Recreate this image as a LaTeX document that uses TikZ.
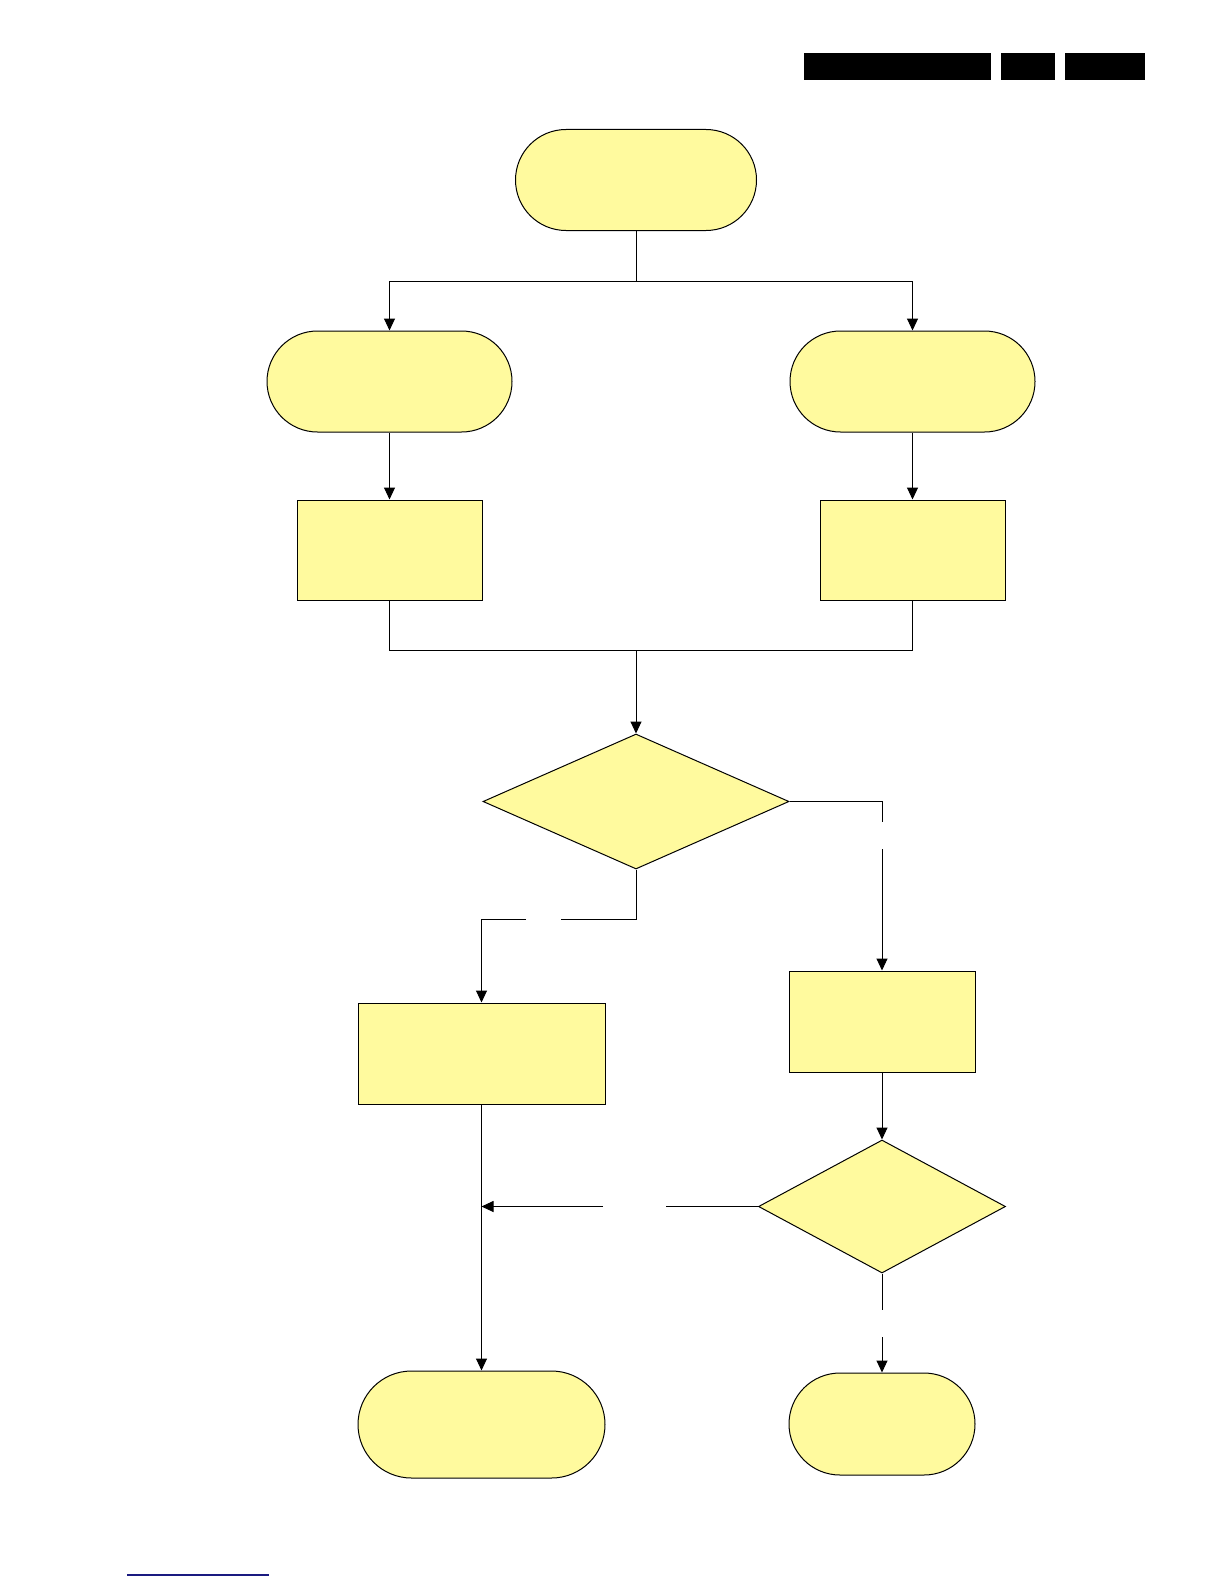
\documentclass[tikz,border=0pt]{standalone}
\usepackage{tikz}
\usetikzlibrary{arrows.meta,shapes.geometric,shapes.misc}
\definecolor{flowfill}{HTML}{FFFA9E}
\definecolor{linkblue}{HTML}{1A1A80}

\begin{document}
\begin{tikzpicture}[
          x=0.5pt, y=-0.5pt,
          line width=0.5pt,
          arr/.style={-{Triangle[length=6pt,width=5.5pt]}},
          term/.style={draw, rounded rectangle, fill=flowfill, inner sep=0pt, minimum height=50.5pt},
          box/.style={draw, fill=flowfill, inner sep=0pt, minimum height=50pt},
          dec/.style={draw, diamond, fill=flowfill, inner sep=0pt}
      ]
        \useasboundingbox (0,0) rectangle (1224,1584);
        % header bars
        \fill (804,53) rectangle (991,80);
        \fill (1001,53) rectangle (1055,80);
        \fill (1065,53) rectangle (1145,80);
        % shapes
        \node[term, minimum width=120.5pt] (start) at (636,180) {};
        \node[term, minimum width=122.5pt] (termL) at (389.5,381.5) {};
        \node[term, minimum width=122.5pt] (termR) at (912.5,381.5) {};
        \node[box, minimum width=92.5pt] (boxL) at (389.5,550) {};
        \node[box, minimum width=92.5pt] (boxR) at (912.5,550) {};
        \node[dec, minimum width=153pt, minimum height=67.5pt, aspect=2.27] (checkA) at (636,801.5) {};
        \node[box, minimum width=123.5pt, minimum height=50.5pt] (boxLL) at (481.5,1053.5) {};
        \node[box, minimum width=93pt, minimum height=50.5pt] (boxRR) at (882,1021.5) {};
        \node[dec, minimum width=123.5pt, minimum height=66.5pt, aspect=1.86] (checkB) at (882,1206.5) {};
        \node[term, minimum width=123.5pt, minimum height=53.5pt] (endL) at (481.5,1424.5) {};
        \node[term, minimum width=93pt, minimum height=51pt] (endR) at (882,1424) {};
        % split and merge
        \coordinate (splitT) at (636,281);
        \coordinate (mergeB) at (636,650);
        \draw (start.south) -- (splitT);
        \draw[arr] (splitT) -| (termL.north);
        \draw[arr] (splitT) -| (termR.north);
        \draw[arr] (termL) -- (boxL);
        \draw[arr] (termR) -- (boxR);
        \draw (boxL.south) |- (mergeB);
        \draw (boxR.south) |- (mergeB);
        \draw[arr] (mergeB) -- (checkA.north);
        % branches of first check
        \coordinate (gapRa) at (882,822);
        \coordinate (gapRb) at (882,849);
        \draw (checkA.east) -| (gapRa);
        \draw[arr] (gapRb) -- (boxRR.north);
        \coordinate (gapLa) at (561,919);
        \coordinate (gapLb) at (526,919);
        \draw (checkA.south) |- (gapLa);
        \draw[arr] (gapLb) -| (boxLL.north);
        % second check
        \draw[arr] (boxRR) -- (checkB);
        \coordinate (joinL) at (481.5,1206.5);
        \coordinate (gapMa) at (666,1206.5);
        \coordinate (gapMb) at (603,1206.5);
        \draw (checkB.west) -- (gapMa);
        \draw[arr] (gapMb) -- (joinL);
        \draw[arr] (boxLL) -- (endL);
        \coordinate (gapBa) at (882,1310);
        \coordinate (gapBb) at (882,1337);
        \draw (checkB.south) -- (gapBa);
        \draw[arr] (gapBb) -- (endR.north);
        % footer link
        \draw[linkblue, line width=0.8pt] (127,1575) -- (269,1575);
      \end{tikzpicture}
\end{document}
